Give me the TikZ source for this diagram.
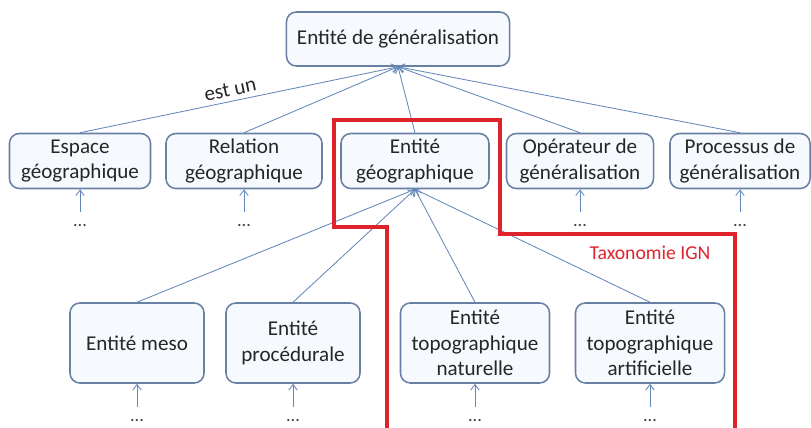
\documentclass[tikz,border=0pt]{standalone}
\usepackage{fontspec}
\setmainfont{Carlito}
\usepackage{tikz}
\usetikzlibrary{positioning,arrows.meta}

\definecolor{boxline}{RGB}{105,128,165}
\definecolor{boxfill}{RGB}{246,249,253}
\definecolor{linkblue}{RGB}{100,135,185}
\definecolor{ignred}{RGB}{222,35,45}

\tikzset{
  concept/.style={draw=boxline, fill=boxfill, line width=1.1pt, rounded corners=7pt,
    align=center, text=black!85, font=\fontsize{15}{18}\selectfont, inner sep=2pt},
  isa/.style={draw=linkblue, line width=0.6pt, -{Straight Barb[length=4pt,width=6pt]}},
  more/.style={font=\fontsize{13}{15}\selectfont, text=black!75, inner sep=1pt, anchor=base,
    text height=0.3cm, text depth=0pt},
}

\begin{document}
\begin{tikzpicture}[x=0.025cm, y=-0.025cm]
\useasboundingbox (0,0) rectangle (811,428);
% root
\node[concept, minimum width=5.575cm, minimum height=1.35cm] (root) at (398,39) {Entité de généralisation};
% first level
\node[concept, minimum width=3.525cm, minimum height=1.375cm] (espace) at (80,161) {Espace\\géographique};
\node[concept, minimum width=3.9cm, minimum height=1.375cm] (relation) at (244,161) {Relation\\géographique};
\node[concept, minimum width=3.7cm, minimum height=1.375cm] (entgeo) at (415,161) {Entité\\géographique};
\node[concept, minimum width=3.675cm, minimum height=1.375cm] (operateur) at (580,161) {Opérateur de\\généralisation};
\node[concept, minimum width=3.5cm, minimum height=1.375cm] (processus) at (740,161) {Processus de\\généralisation};
% second level, under Entité géographique
\node[concept, minimum width=3.35cm, minimum height=2cm] (meso) at (137,343) {Entité meso};
\node[concept, minimum width=3.35cm, minimum height=2cm] (proc) at (293,343) {Entité\\procédurale};
\node[concept, minimum width=3.725cm, minimum height=2cm] (naturelle) at (475,343) {Entité\\topographique\\naturelle};
\node[concept, minimum width=3.725cm, minimum height=2cm] (artif) at (650,343) {Entité\\topographique\\artificielle};
% est-un links
\draw[isa] (espace.north) -- node[pos=0.48, above, sloped, font=\fontsize{15}{18}\selectfont, text=black!85] (estun) {est un} (root.south);
\foreach \n in {relation,entgeo,operateur,processus} \draw[isa] (\n.north) -- (root.south);
\foreach \n in {meso,proc,naturelle,artif} \draw[isa] (\n.north) -- (entgeo.south);
% elided subclasses
\foreach \n/\x in {espace/80,relation/244,operateur/580,processus/740}
  {\node[more] (dots-\n) at (\x,226) {...};
   \draw[isa] (dots-\n.north) -- (\n.south);}
\foreach \n/\x in {meso/137,proc/293,naturelle/475,artif/650}
  {\node[more] (dots-\n) at (\x,421) {...};
   \draw[isa] (dots-\n.north) -- (\n.south);}
% IGN taxonomy boundary
\draw[ignred, line width=2.2pt] (387,430) -- (387,227) -- (334,227) -- (334,120) -- (500,120)
  -- (500,234) -- (735,234) -- (735,430);
\node[ignred, font=\fontsize{14}{17}\selectfont] (tax) at (650,253) {Taxonomie IGN};
\end{tikzpicture}
\end{document}
